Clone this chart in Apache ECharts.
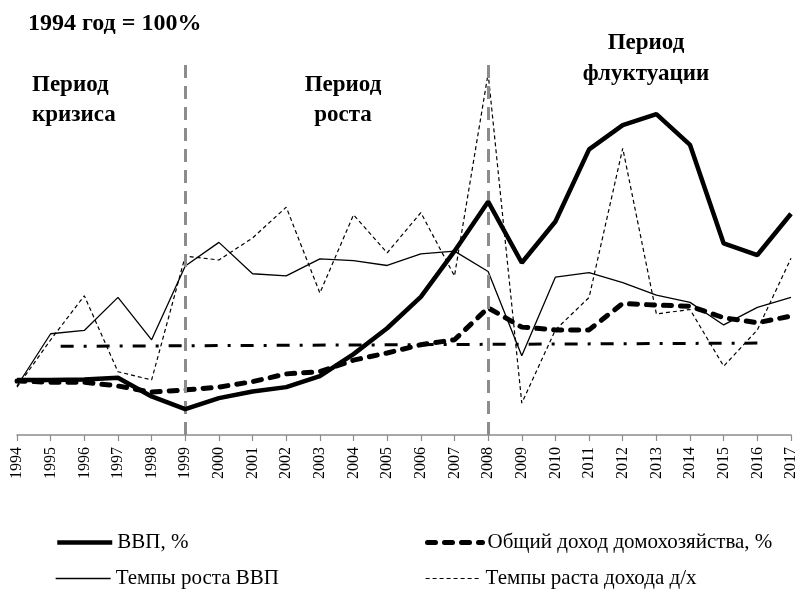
<!DOCTYPE html>
<html>
<head>
<meta charset="utf-8">
<script src="https://cdn.jsdelivr.net/npm/echarts@6/dist/echarts.min.js"></script>
<style>
  html, body { margin: 0; padding: 0; background: #fff; }
  #chart { width: 803px; height: 591px; }
</style>
</head>
<body>
<div id="chart"></div>
<script>
// годы и ряды (1994 год = 100%)
const years = ['1994','1995','1996','1997','1998','1999','2000','2001','2002','2003','2004','2005',
               '2006','2007','2008','2009','2010','2011','2012','2013','2014','2015','2016','2017'];
const gdp = [100, 100, 101, 104, 70, 47, 67, 79, 87, 107, 147, 194, 251, 334, 424, 313, 388, 519, 563, 583, 527, 348, 327, 402];
const householdIncome = [98, 96, 96, 89, 78, 82, 87, 97, 111, 115, 136, 149, 164, 173, 231, 196, 191, 191, 239, 236, 234, 213, 204, 216];
const gdpGrowth = [89, 184, 190, 250, 173, 307, 350, 293, 289, 320, 317, 308, 329, 334, 297, 144, 287, 295, 277, 254, 241, 200, 232, 250];
const incomeGrowth = [87, 173, 253, 115, 100, 325, 318, 358, 414, 258, 400, 331, 404, 289, 657, 58, 191, 250, 521, 220, 228, 125, 191, 321];
const trend = [null, 161, null, null, null, null, null, null, null, null, null, null,
               null, null, null, null, null, null, null, null, null, null, 167, null];
const periodMarks = ['1999', '2008'];

const serif = '"Liberation Serif", "DejaVu Serif", serif';

const gdpLine = { color: '#000', width: 4.5 };
const incomeLine = { color: '#000', width: 5, type: [8, 9], cap: 'round' };
const gdpGrowthLine = { color: '#000', width: 1.3 };
const incomeGrowthLine = { color: '#000', width: 1.2, type: [4, 3] };

let myChart = echarts.init(document.getElementById('chart'));

// по одной легенде на каждый ряд, чтобы выстроить две колонки
function legendAt(name, left, top, lineStyle) {
  return {
    data: [name],
    left: left,
    top: top,
    itemWidth: 55,
    itemHeight: 12,
    itemGap: 0,
    itemStyle: { opacity: 0 },
    lineStyle: lineStyle,
    textStyle: { fontFamily: serif, fontSize: 21, color: '#000' }
  };
}

let option = {
  animation: false,
  backgroundColor: '#fff',
  grid: { left: 17, right: 12, top: 58, bottom: 156 },
  legend: [
    legendAt('ВВП, %', 50, 527, gdpLine),
    legendAt('Общий доход домохозяйства, %', 420, 527, incomeLine),
    legendAt('Темпы роста ВВП', 50, 563, gdpGrowthLine),
    legendAt('Темпы раста дохода д/х', 420, 563, incomeGrowthLine)
  ],
  xAxis: {
    type: 'category',
    data: years,
    boundaryGap: false,
    axisLine: { lineStyle: { color: '#8c8c8c', width: 1.5 } },
    axisTick: { show: true, length: 6, lineStyle: { color: '#8c8c8c', width: 1.2 } },
    axisLabel: { rotate: 90, margin: 12, fontFamily: serif, fontSize: 16, color: '#000' }
  },
  yAxis: {
    type: 'value',
    min: 0,
    max: 685,
    show: false,
    splitLine: { show: false }
  },
  graphic: [
    { type: 'text', left: 28, top: 12,
      style: { text: '1994 год = 100%', font: 'bold 24px ' + serif, fill: '#000' } },
    { type: 'text', x: 32, y: 70,
      style: { text: 'Период\nкризиса', font: 'bold 23px ' + serif, fill: '#000', lineHeight: 30, align: 'left', verticalAlign: 'top' } },
    { type: 'text', x: 343, y: 70,
      style: { text: 'Период\nроста', font: 'bold 23px ' + serif, fill: '#000', lineHeight: 30, align: 'center', verticalAlign: 'top' } },
    { type: 'text', x: 646, y: 28,
      style: { text: 'Период\nфлуктуации', font: 'bold 23px ' + serif, fill: '#000', lineHeight: 31, align: 'center', verticalAlign: 'top' } }
  ],
  series: [
    {
      name: 'Тренд',
      type: 'line',
      data: trend,
      connectNulls: true,
      symbol: 'none',
      lineStyle: { color: '#000', width: 3, type: [13, 10, 3, 10], dashOffset: 26 },
      z: 2
    },
    {
      name: 'Темпы роста ВВП',
      type: 'line',
      data: gdpGrowth,
      symbol: 'none',
      lineStyle: gdpGrowthLine,
      itemStyle: { color: '#000' },
      z: 3
    },
    {
      name: 'Темпы раста дохода д/х',
      type: 'line',
      data: incomeGrowth,
      symbol: 'none',
      lineStyle: incomeGrowthLine,
      itemStyle: { color: '#000' },
      z: 3
    },
    {
      name: 'Общий доход домохозяйства, %',
      type: 'line',
      data: householdIncome,
      symbol: 'none',
      lineStyle: incomeLine,
      itemStyle: { color: '#000' },
      z: 4
    },
    {
      name: 'ВВП, %',
      type: 'line',
      data: gdp,
      symbol: 'none',
      lineStyle: gdpLine,
      itemStyle: { color: '#000' },
      z: 5,
      markLine: {
        silent: true,
        symbol: 'none',
        label: { show: false },
        lineStyle: { color: '#8c8c8c', width: 3, type: [13, 8] },
        data: periodMarks.map(function (y) { return { xAxis: y }; })
      }
    }
  ]
};

myChart.setOption(option);
</script>
</body>
</html>
